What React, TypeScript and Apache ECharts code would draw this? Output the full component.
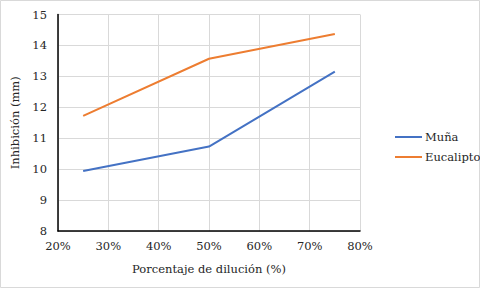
import React, { useEffect, useRef } from "react";
import * as echarts from "echarts";

const dilution = [25, 50, 75];
const munaValues = [9.94, 10.73, 13.15];
const eucaliptoValues = [11.72, 13.57, 14.37];
const seriesNames = ["Muña", "Eucalipto"];

export default function App() {
  const ref = useRef<HTMLDivElement>(null);
  useEffect(() => {
    const chart = echarts.init(ref.current!, null, { renderer: "svg" });
    const font = "DejaVu Serif";
    const fs = 11.5;
    chart.setOption({
      animation: false,
      textStyle: { fontFamily: font, color: "#262626" },
      graphic: [
        {
          type: "rect",
          shape: { x: 0.5, y: 0.5, width: 479, height: 287 },
          style: { fill: "none", stroke: "#d9d9d9", lineWidth: 1 },
          silent: true,
        },
      ],
      grid: { left: 58, right: 120, top: 14.5, bottom: 57, containLabel: false },
      legend: {
        orient: "vertical",
        left: 390,
        top: 126,
        itemWidth: 27,
        itemHeight: 2,
        itemGap: 8,
        icon: "rect",
        data: seriesNames,
        textStyle: { fontFamily: font, fontSize: fs, color: "#262626", padding: [0, 0, 0, -2] },
      },
      xAxis: {
        type: "value",
        min: 20,
        max: 80,
        interval: 10,
        name: "Porcentaje de dilución (%)",
        nameLocation: "middle",
        nameGap: 32,
        nameTextStyle: { fontFamily: font, fontSize: fs, color: "#262626" },
        axisLine: { lineStyle: { color: "#000", width: 1.5 } },
        axisTick: { show: false },
        axisLabel: { formatter: "{value}%", margin: 9, fontFamily: font, fontSize: fs, color: "#262626" },
        splitLine: { show: true, lineStyle: { color: "#d9d9d9", width: 1 } },
      },
      yAxis: {
        type: "value",
        min: 8,
        max: 15,
        interval: 1,
        name: "Inhibición (mm)",
        nameLocation: "middle",
        nameGap: 31,
        nameTextStyle: { fontFamily: font, fontSize: fs, color: "#262626" },
        axisLine: { show: true, lineStyle: { color: "#000", width: 1.5 } },
        axisTick: { show: false },
        axisLabel: { margin: 11, fontFamily: font, fontSize: fs, color: "#262626" },
        splitLine: { show: true, lineStyle: { color: "#d9d9d9", width: 1 } },
      },
      series: [
        {
          name: seriesNames[0],
          type: "line",
          data: dilution.map((d, i) => [d, munaValues[i]]),
          showSymbol: false,
          symbol: "none",
          lineStyle: { color: "#4472C4", width: 2 },
          itemStyle: { color: "#4472C4" },
        },
        {
          name: seriesNames[1],
          type: "line",
          data: dilution.map((d, i) => [d, eucaliptoValues[i]]),
          showSymbol: false,
          symbol: "none",
          lineStyle: { color: "#ED7D31", width: 2 },
          itemStyle: { color: "#ED7D31" },
        },
      ],
    });
    return () => chart.dispose();
  }, []);
  return (
    <div
      ref={ref}
      style={{ position: "fixed", left: 0, top: 0, width: 480, height: 288, background: "#fff" }}
    />
  );
}
